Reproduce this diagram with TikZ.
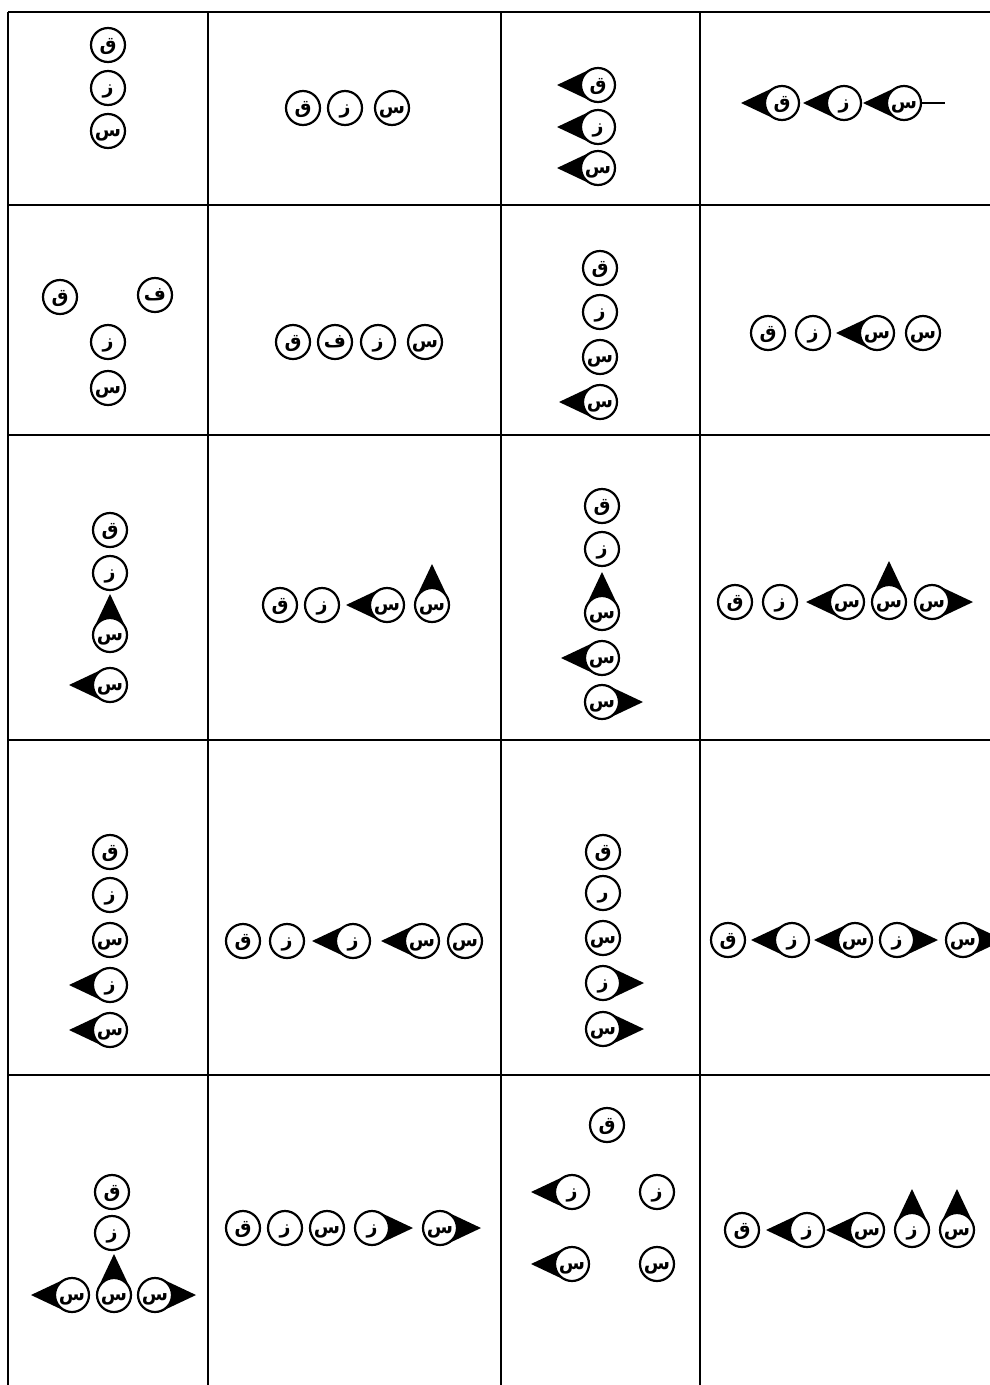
\documentclass[tikz,border=0pt]{standalone}
\usepackage{fontspec}
\newfontfamily\arfont[Script=Arabic]{DejaVu Sans}
\TeXXeTstate=1
\usetikzlibrary{calc}
\pgfdeclarelayer{bg}
\pgfsetlayers{bg,main}
\tikzset{
  ball/.style={circle,draw=black,fill=white,line width=2.2pt,minimum size=34pt,inner sep=0pt,
    text height=6pt,text depth=6pt,
    font=\arfont\bfseries\fontsize{19}{19}\selectfont},
  grid/.style={line width=2.6pt,black},
  stem/.style={line width=2pt,black}
}
\newcommand\ball[4]{\node[ball] (#1) at (#2,#3) {\smash{\raisebox{-5pt}{\beginR #4\endR}}};}
\newcommand\tri[2]{\begin{pgfonlayer}{bg}\fill[black] (#1.center) +(#2+65:17.5) -- +(#2:41) -- +(#2-65:17.5) -- cycle;\end{pgfonlayer}}
\begin{document}
\begin{tikzpicture}[x=1pt,y=-1pt]
\useasboundingbox (0,0) rectangle (990,1385);
% grid
\draw[grid] (8,12) -- (990,12);
\draw[grid] (8,12) -- (8,1385);
\draw[grid] (208,12) -- (208,1385);
\draw[grid] (501,12) -- (501,1385);
\draw[grid] (700,12) -- (700,1385);
\draw[grid] (8,205) -- (990,205);
\draw[grid] (8,435) -- (990,435);
\draw[grid] (8,740) -- (990,740);
\draw[grid] (8,1075) -- (990,1075);
% ---------- row 1
\ball{a1q}{108}{45}{ق}
\ball{a1z}{108}{88}{ز}
\ball{a1s}{108}{131}{س}
\ball{b1q}{303}{108}{ق}
\ball{b1z}{345}{108}{ز}
\ball{b1s}{392}{108}{س}
\ball{c1q}{598}{85}{ق}\tri{c1q}{180}
\ball{c1z}{598}{127}{ز}\tri{c1z}{180}
\ball{c1s}{598}{168}{س}\tri{c1s}{180}
\ball{d1q}{782}{103}{ق}\tri{d1q}{180}
\ball{d1z}{844}{103}{ز}\tri{d1z}{180}
\ball{d1s}{904}{103}{س}\tri{d1s}{180}
\coordinate (d1end) at (945,103);
\draw[stem] (d1s.east) -- (d1end);
% ---------- row 2
\ball{a2q}{60}{297}{ق}
\ball{a2f}{155}{295}{ف}
\ball{a2z}{108}{342}{ز}
\ball{a2s}{108}{388}{س}
\ball{b2q}{293}{342}{ق}
\ball{b2f}{335}{342}{ف}
\ball{b2z}{378}{342}{ز}
\ball{b2s}{425}{342}{س}
\ball{c2q}{600}{268}{ق}
\ball{c2z}{600}{312}{ز}
\ball{c2s}{600}{357}{س}
\ball{c2t}{600}{402}{س}\tri{c2t}{180}
\ball{d2q}{768}{333}{ق}
\ball{d2z}{813}{333}{ز}
\ball{d2s}{877}{333}{س}\tri{d2s}{180}
\ball{d2t}{923}{333}{س}
% ---------- row 3
\ball{a3q}{110}{530}{ق}
\ball{a3z}{110}{573}{ز}
\ball{a3s}{110}{635}{س}\tri{a3s}{-90}
\ball{a3t}{110}{685}{س}\tri{a3t}{180}
\ball{b3q}{280}{605}{ق}
\ball{b3z}{322}{605}{ز}
\ball{b3s}{387}{605}{س}\tri{b3s}{180}
\ball{b3t}{432}{605}{س}\tri{b3t}{-90}
\ball{c3q}{602}{506}{ق}
\ball{c3z}{602}{549}{ز}
\ball{c3s}{602}{613}{س}\tri{c3s}{-90}
\ball{c3t}{602}{658}{س}\tri{c3t}{180}
\ball{c3u}{602}{702}{س}\tri{c3u}{0}
\ball{d3q}{735}{602}{ق}
\ball{d3z}{780}{602}{ز}
\ball{d3s}{847}{602}{س}\tri{d3s}{180}
\ball{d3t}{889}{602}{س}\tri{d3t}{-90}
\ball{d3u}{932}{602}{س}\tri{d3u}{0}
% ---------- row 4
\ball{a4q}{110}{852}{ق}
\ball{a4z}{110}{895}{ز}
\ball{a4s}{110}{940}{س}
\ball{a4y}{110}{985}{ز}\tri{a4y}{180}
\ball{a4t}{110}{1030}{س}\tri{a4t}{180}
\ball{b4q}{243}{941}{ق}
\ball{b4z}{287}{941}{ز}
\ball{b4y}{353}{941}{ز}\tri{b4y}{180}
\ball{b4s}{422}{941}{س}\tri{b4s}{180}
\ball{b4t}{465}{941}{س}
\ball{c4q}{603}{852}{ق}
\ball{c4r}{603}{893}{ر}
\ball{c4s}{603}{938}{س}
\ball{c4z}{603}{983}{ز}\tri{c4z}{0}
\ball{c4t}{603}{1029}{س}\tri{c4t}{0}
\ball{d4q}{728}{940}{ق}
\ball{d4z}{792}{940}{ز}\tri{d4z}{180}
\ball{d4s}{855}{940}{س}\tri{d4s}{180}
\ball{d4y}{897}{940}{ز}\tri{d4y}{0}
\ball{d4t}{963}{940}{س}\tri{d4t}{0}
% ---------- row 5
\ball{a5q}{112}{1192}{ق}
\ball{a5z}{112}{1233}{ز}
\ball{a5s}{72}{1295}{س}\tri{a5s}{180}
\ball{a5t}{114}{1295}{س}\tri{a5t}{-90}
\ball{a5u}{155}{1295}{س}\tri{a5u}{0}
\ball{b5q}{243}{1228}{ق}
\ball{b5z}{285}{1228}{ز}
\ball{b5s}{327}{1228}{س}
\ball{b5y}{372}{1228}{ز}\tri{b5y}{0}
\ball{b5t}{440}{1228}{س}\tri{b5t}{0}
\ball{c5q}{607}{1125}{ق}
\ball{c5z}{572}{1192}{ز}\tri{c5z}{180}
\ball{c5y}{657}{1192}{ز}
\ball{c5s}{572}{1264}{س}\tri{c5s}{180}
\ball{c5t}{657}{1264}{س}
\ball{d5q}{742}{1230}{ق}
\ball{d5z}{807}{1230}{ز}\tri{d5z}{180}
\ball{d5s}{867}{1230}{س}\tri{d5s}{180}
\ball{d5y}{912}{1230}{ز}\tri{d5y}{-90}
\ball{d5t}{957}{1230}{س}\tri{d5t}{-90}
\end{tikzpicture}
\end{document}
